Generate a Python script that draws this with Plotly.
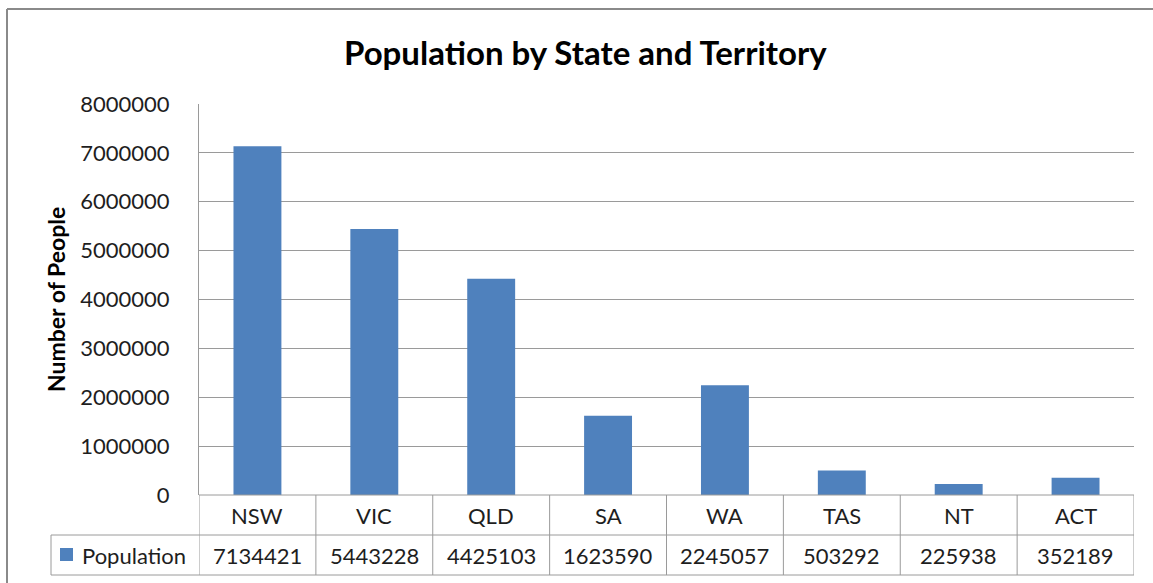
import plotly.graph_objects as go

states = ["NSW", "VIC", "QLD", "SA", "WA", "TAS", "NT", "ACT"]
population = [7134421, 5443228, 4425103, 1623590, 2245057, 503292, 225938, 352189]
series_name = "Population"
y_ticks = [0, 1000000, 2000000, 3000000, 4000000, 5000000, 6000000, 7000000, 8000000]

W, H = 1153, 583
L, R, T, B = 199, 1134, 104, 495
FONT = "Lato"
BAR = "#4F81BD"
GRID = "#9a9a9a"
TXT = "#1e1e1e"
FS = 22

def px(x):
    return (x - L) / (R - L)

def py(y):
    return (B - y) / (B - T)

fig = go.Figure()
fig.add_trace(go.Bar(x=list(range(len(states))), y=population, marker_color=BAR,
                     marker_line_width=0, width=0.41, name=series_name, showlegend=False))

row1_top, row1_bot, row2_bot = 495, 535, 575
shapes = []
line = dict(color=GRID, width=1)
shapes.append(dict(type="line", xref="paper", yref="paper", x0=px(L), x1=1, y0=py(row1_top), y1=py(row1_top), line=line))
shapes.append(dict(type="line", xref="paper", yref="paper", x0=px(51), x1=1, y0=py(row1_bot), y1=py(row1_bot), line=line))
shapes.append(dict(type="line", xref="paper", yref="paper", x0=px(51), x1=1, y0=py(row2_bot), y1=py(row2_bot), line=line))
for i in range(len(states) + 1):
    shapes.append(dict(type="line", xref="x", yref="paper", x0=i - 0.5, x1=i - 0.5,
                       y0=py(row1_top), y1=py(row2_bot), line=line))
shapes.append(dict(type="line", xref="paper", yref="paper", x0=px(51), x1=px(51),
                   y0=py(row1_bot), y1=py(row2_bot), line=line))
shapes.append(dict(type="rect", xref="paper", yref="paper", x0=px(60), x1=px(73),
                   y0=py(561), y1=py(548), fillcolor=BAR, line=dict(width=0)))
shapes.append(dict(type="line", xref="paper", yref="paper", x0=px(7), x1=px(1160), y0=py(9), y1=py(9),
                   line=dict(color="#8a8a8a", width=2)))
shapes.append(dict(type="line", xref="paper", yref="paper", x0=px(7), x1=px(7), y0=py(9), y1=py(590),
                   line=dict(color="#8a8a8a", width=2)))

annotations = []
for i, (s, v) in enumerate(zip(states, population)):
    annotations.append(dict(x=i, y=py((row1_top + row1_bot) / 2), xref="x", yref="paper", text=s,
                            xanchor="center", yanchor="middle",
                            showarrow=False, font=dict(family=FONT, size=FS, color=TXT)))
    annotations.append(dict(x=i, y=py((row1_bot + row2_bot) / 2), xref="x", yref="paper", text=str(v),
                            xanchor="center", yanchor="middle",
                            showarrow=False, font=dict(family=FONT, size=FS, color=TXT)))
annotations.append(dict(x=px(80), y=py((row1_bot + row2_bot) / 2), xref="paper", yref="paper", text=series_name,
                        xanchor="left", yanchor="middle", showarrow=False, font=dict(family=FONT, size=FS, color=TXT)))
annotations.append(dict(x=px(585), y=py(52), xref="paper", yref="paper", text="<b>Population by State and Territory</b>",
                        xanchor="center", yanchor="middle",
                        showarrow=False, font=dict(family=FONT, size=33, color="#000000")))
annotations.append(dict(x=px(56), y=py(300), xref="paper", yref="paper", text="<b>Number of People</b>",
                        xanchor="center", yanchor="middle",
                        textangle=-90, showarrow=False, font=dict(family=FONT, size=23, color="#000000")))

fig.update_layout(
    width=W, height=H, autosize=False,
    margin=dict(l=L, r=W - R, t=T, b=H - B, pad=0),
    paper_bgcolor="white", plot_bgcolor="white",
    shapes=shapes, annotations=annotations,
    xaxis=dict(range=[-0.5, len(states) - 0.5], showticklabels=False, showgrid=False,
               zeroline=False, showline=False, ticks=""),
    yaxis=dict(range=[0, 8000000], tickvals=y_ticks, ticktext=[str(t) for t in y_ticks],
               showgrid=True, gridcolor=GRID, gridwidth=1, zeroline=False,
               showline=True, linecolor=GRID, linewidth=1, ticks="", ticklabelstandoff=24,
               tickfont=dict(family=FONT, size=FS, color=TXT)),
)

fig.write_html("out.html", config={"displayModeBar": False},
               post_script="document.body.style.margin='0';document.body.style.overflow='hidden';")
